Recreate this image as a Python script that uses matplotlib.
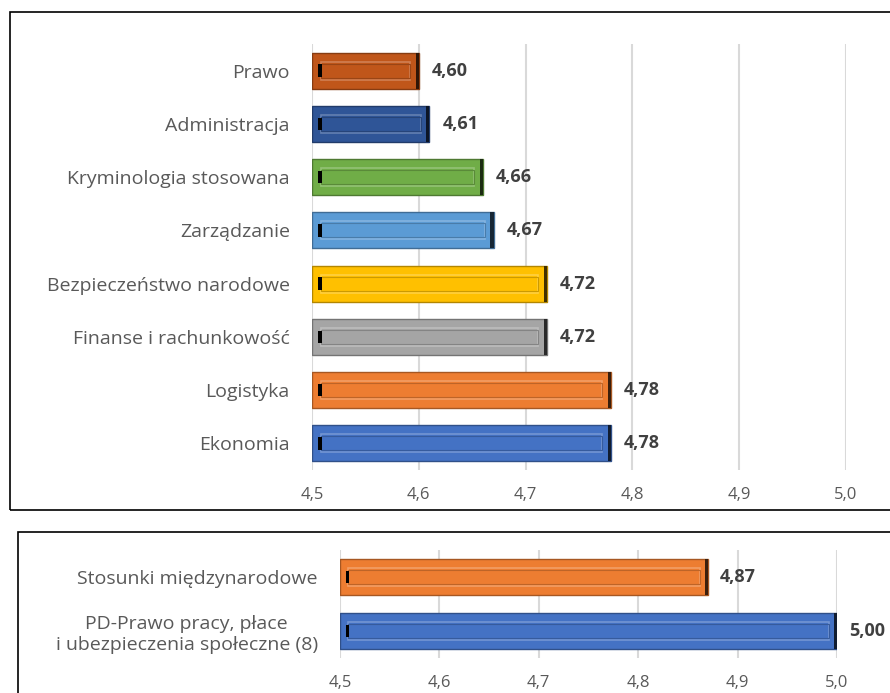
import matplotlib.pyplot as plt
import matplotlib.patches as patches
from matplotlib.colors import to_rgb
import numpy as np

plt.rcParams['font.family'] = ['Open Sans', 'DejaVu Sans']

# top panel
cats_top = ["Prawo", "Administracja", "Kryminologia stosowana", "Zarządzanie",
            "Bezpieczeństwo narodowe", "Finanse i rachunkowość", "Logistyka", "Ekonomia"]
vals_top = [4.60, 4.61, 4.66, 4.67, 4.72, 4.72, 4.78, 4.78]
cols_top = ["#C0561A", "#2F5597", "#70AD47", "#5B9BD5",
            "#FFC000", "#A5A5A5", "#ED7D31", "#4472C4"]

# bottom panel
cats_bot = ["Stosunki międzynarodowe", "PD-Prawo pracy, płace\ni ubezpieczenia społeczne (8)"]
vals_bot = [4.87, 5.00]
cols_bot = ["#ED7D31", "#4472C4"]

ticks = [4.5, 4.6, 4.7, 4.8, 4.9, 5.0]
base = 4.5


def shade(c, f):
    r = np.array(to_rgb(c))
    if f < 0:
        return tuple(r * (1 + f))
    return tuple(r + (1 - r) * f)


def draw(ax, cats, vals, cols):
    y = np.arange(len(cats))
    h = 0.68
    for yi, v, c in zip(y, vals, cols):
        ax.barh(yi, v - base, left=base, height=h, color=c,
                edgecolor=shade(c, -0.3), linewidth=1, zorder=3)
        d = 0.008
        ax.barh(yi, v - base - 2 * d, left=base + d, height=h * 0.5, color='none',
                edgecolor=shade(c, 0.25), linewidth=1.2, zorder=4)
        ax.barh(yi, v - base - 2 * d, left=base + d, height=h * 0.5 - 0.08, color='none',
                edgecolor=shade(c, -0.2), linewidth=0.8, zorder=4)
        ax.barh(yi, 0.003, left=base + d - 0.002, height=h * 0.35, color='black', zorder=5)
        ax.barh(yi, 0.003, left=v - 0.003, height=h, color=shade(c, -0.75), zorder=5)
        ax.text(v + 0.012, yi, f"{v:.2f}".replace('.', ','), va='center', ha='left',
                fontsize=13, fontweight='bold', color='#404040')
    ax.set_xlim(4.5, 5.0)
    ax.set_ylim(len(cats) - 0.5, -0.5)
    ax.set_yticks(y)
    ax.set_yticklabels(cats, fontsize=14, color='#595959', multialignment='center')
    ax.set_xticks(ticks)
    ax.set_xticklabels([f"{t:.1f}".replace('.', ',') for t in ticks],
                       fontsize=12, color='#595959')
    ax.tick_params(axis='y', length=0, pad=16)
    ax.tick_params(axis='x', length=0, pad=12)
    ax.grid(axis='x', color='#D9D9D9', linewidth=1.5, zorder=0)
    for s in ax.spines.values():
        s.set_visible(False)
    ax.set_axisbelow(True)


fig = plt.figure(figsize=(8.9, 6.93), dpi=100)

# panel borders
fig.patches.append(patches.Rectangle((10 / 890, 1 - 510 / 693), 1.0, 498 / 693,
                                     transform=fig.transFigure, fill=False,
                                     edgecolor='black', linewidth=1.2))
fig.patches.append(patches.Rectangle((18 / 890, -0.1), 1.0, 0.1 + 1 - 532 / 693,
                                     transform=fig.transFigure, fill=False,
                                     edgecolor='black', linewidth=1.2))

ax1 = fig.add_axes([312 / 890, 1 - 470 / 693, (846 - 312) / 890, (470 - 44) / 693])
draw(ax1, cats_top, vals_top, cols_top)

ax2 = fig.add_axes([340 / 890, 1 - 658 / 693, (837 - 340) / 890, (658 - 550) / 693])
draw(ax2, cats_bot, vals_bot, cols_bot)

fig.savefig("out.png", dpi=100)
